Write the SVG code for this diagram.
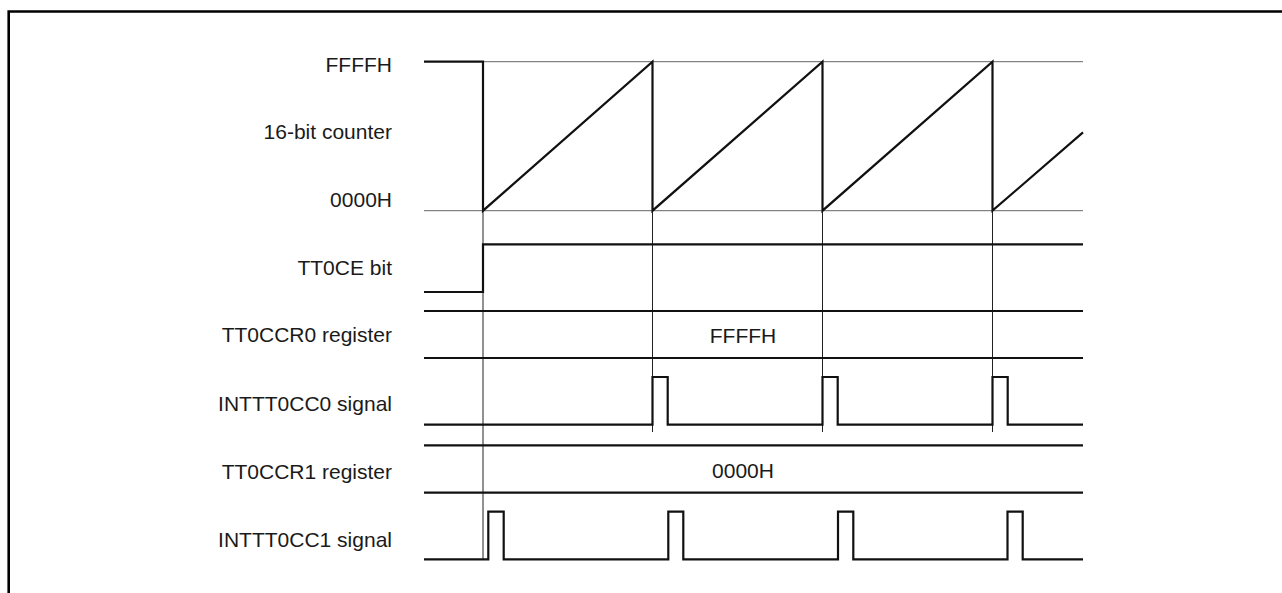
<svg xmlns="http://www.w3.org/2000/svg" width="1282" height="593" viewBox="0 0 1282 593">
<style>
.lbl{font-family:"Liberation Sans",Arial,sans-serif;font-size:21px;fill:#1a1a1a;text-anchor:end}
.val{font-family:"Liberation Sans",Arial,sans-serif;font-size:21px;fill:#1a1a1a;text-anchor:middle}
.thick{fill:none;stroke:#111;stroke-width:2.2;stroke-linejoin:miter;stroke-linecap:butt}
.thin{fill:none;stroke:#222;stroke-width:1}
.ref{fill:none;stroke:#666;stroke-width:1}
.frame{fill:none;stroke:#000;stroke-width:2.6}
</style>
<rect x="0" y="0" width="1282" height="593" fill="#fff"/>
<g id="frame">
<path class="frame" d="M8.7 600 V11.5 H1290"/>
</g>
<g id="labels">
<text class="lbl" x="392" y="71.5">FFFFH</text>
<text class="lbl" x="392" y="139">16-bit counter</text>
<text class="lbl" x="392" y="207.3">0000H</text>
<text class="lbl" x="392" y="275">TT0CE bit</text>
<text class="lbl" x="392" y="341.7">TT0CCR0 register</text>
<text class="lbl" x="392" y="411">INTTT0CC0 signal</text>
<text class="lbl" x="392" y="479">TT0CCR1 register</text>
<text class="lbl" x="392" y="546.7">INTTT0CC1 signal</text>
</g>
<g id="connectors">
<line class="ref" x1="483" y1="61.7" x2="1083" y2="61.7"/>
<line class="ref" x1="424" y1="210.7" x2="1083" y2="210.7"/>
<line class="thin" x1="483" y1="210" x2="483" y2="559"/>
<line class="thin" x1="652.5" y1="210" x2="652.5" y2="432"/>
<line class="thin" x1="822.5" y1="210" x2="822.5" y2="432"/>
<line class="thin" x1="992.5" y1="210" x2="992.5" y2="432"/>
</g>
<g id="counter">
<path class="thick" d="M424 61.7 H483 V210.7 L652.5 61.7 V210.7 L822.5 61.7 V210.7 L992.5 61.7 V210.7 L1083 132.3"/>
</g>
<g id="tt0ce">
<path class="thick" d="M424 292 H483 V244.3 H1083"/>
</g>
<g id="tt0ccr0">
<line class="thick" x1="424" y1="311" x2="1083" y2="311"/>
<line class="thick" x1="424" y1="358" x2="1083" y2="358"/>
<text class="val" x="743" y="343">FFFFH</text>
</g>
<g id="intttocc0">
<path class="thick" d="M424 424.7 H652.5 V377 H667.7 V424.7 H822.5 V377 H837.7 V424.7 H992.5 V377 H1007.7 V424.7 H1083"/>
</g>
<g id="tt0ccr1">
<line class="thick" x1="424" y1="445.3" x2="1083" y2="445.3"/>
<line class="thick" x1="424" y1="492.7" x2="1083" y2="492.7"/>
<text class="val" x="743" y="478">0000H</text>
</g>
<g id="intttocc1">
<path class="thick" d="M424 559.3 H488.3 V511.7 H503.7 V559.3 H668.3 V511.7 H683.3 V559.3 H838 V511.7 H853.3 V559.3 H1007.5 V511.7 H1022.7 V559.3 H1083"/>
</g>
</svg>
